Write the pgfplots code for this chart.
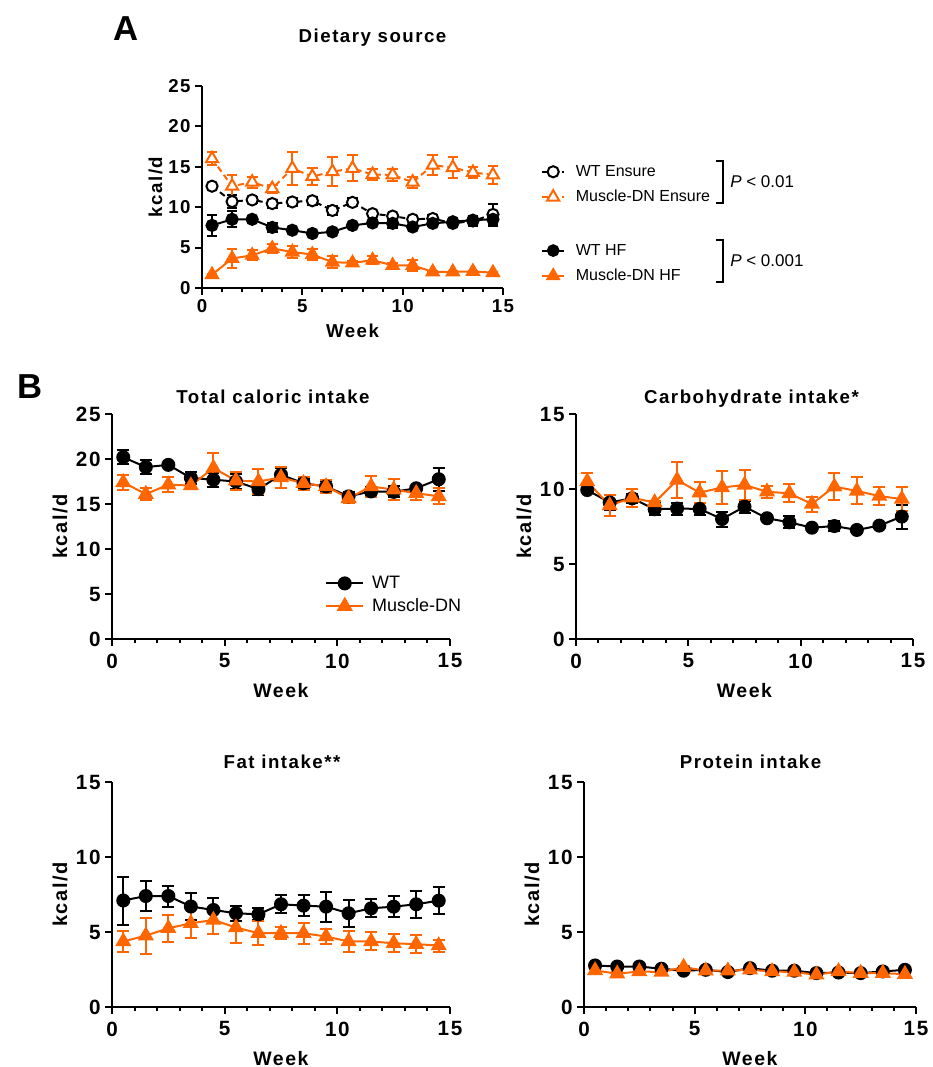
\documentclass[border=0pt]{standalone}
\usepackage{fontspec}
\setmainfont{Liberation Sans}
\newfontfamily\lsf[LetterSpace=8]{Liberation Sans}
\usepackage{pgfplots}
\usepackage{pgfplotstable}
\pgfplotsset{compat=1.18}
\definecolor{dnor}{RGB}{255,102,0}

% Panel A
\pgfplotstableread{
x y e
0.5 12.6 0.3
1.5 10.7 0.8
2.5 10.9 0.4
3.5 10.45 0.5
4.5 10.65 0.5
5.5 10.8 0.5
6.5 9.6 0.6
7.5 10.6 0.5
8.5 9.2 0.3
9.5 8.9 0.3
10.5 8.5 0.2
11.5 8.6 0.4
12.5 8.0 0.3
13.5 8.3 0.6
14.5 9.1 1.3
}\wtens
\pgfplotstableread{
x y e
0.5 16.0 0.8
1.5 12.6 1.4
2.5 13.1 0.7
3.5 12.3 0.5
4.5 14.8 2.0
5.5 13.8 1.0
6.5 14.4 1.8
7.5 14.8 1.6
8.5 14.05 0.7
9.5 14.0 0.7
10.5 13.1 0.7
11.5 15.2 1.2
12.5 14.9 1.3
13.5 14.3 0.7
14.5 14.0 1.1
}\dnens
\pgfplotstableread{
x y e
0.5 7.75 1.3
1.5 8.5 1.0
2.5 8.5 0.2
3.5 7.5 0.6
4.5 7.15 0.2
5.5 6.75 0.2
6.5 6.95 0.2
7.5 7.75 0.2
8.5 8.05 0.3
9.5 8.0 0.6
10.5 7.55 0.3
11.5 8.0 0.3
12.5 8.2 0.3
13.5 8.4 0.5
14.5 8.5 0.8
}\wthf
\pgfplotstableread{
x y e
0.5 1.65 0.1
1.5 3.65 1.2
2.5 4.05 0.6
3.5 4.9 0.6
4.5 4.45 0.7
5.5 4.15 0.7
6.5 3.2 0.7
7.5 3.1 0.2
8.5 3.45 0.5
9.5 2.8 0.3
10.5 2.8 0.7
11.5 2.0 0.1
12.5 2.0 0.1
13.5 2.05 0.1
14.5 1.9 0.1
}\dnhf
% Total
\pgfplotstableread{
x y e
0.5 20.2 0.8
1.5 19.1 0.8
2.5 19.35 0.2
3.5 17.9 0.7
4.5 17.7 0.8
5.5 17.5 0.8
6.5 16.65 0.6
7.5 18.25 0.7
8.5 17.3 0.5
9.5 16.95 0.6
10.5 15.85 0.5
11.5 16.4 0.5
12.5 16.35 0.6
13.5 16.75 0.3
14.5 17.75 1.3
}\wttot
\pgfplotstableread{
x y e
0.5 17.4 0.8
1.5 16.1 0.7
2.5 17.15 0.8
3.5 17.05 0.4
4.5 19.0 1.7
5.5 17.6 1.0
6.5 17.5 1.4
7.5 17.95 1.2
8.5 17.3 0.7
9.5 16.95 0.7
10.5 15.65 0.5
11.5 16.95 1.2
12.5 16.6 1.2
13.5 16.2 0.7
14.5 15.85 0.9
}\dntot
% Carbohydrate
\pgfplotstableread{
x y e
0.5 9.93 0.1
1.5 9.1 0.5
2.5 9.38 0.3
3.5 8.65 0.4
4.5 8.7 0.4
5.5 8.67 0.4
6.5 8.0 0.5
7.5 8.82 0.4
8.5 8.05 0.1
9.5 7.78 0.4
10.5 7.42 0.1
11.5 7.53 0.35
12.5 7.27 0.1
13.5 7.56 0.1
14.5 8.16 0.8
}\wtcarb
\pgfplotstableread{
x y e
0.5 10.5 0.6
1.5 8.9 0.7
2.5 9.42 0.6
3.5 9.1 0.1
4.5 10.6 1.2
5.5 9.76 0.7
6.5 10.1 1.1
7.5 10.27 1.0
8.5 9.82 0.4
9.5 9.71 0.6
10.5 9.0 0.5
11.5 10.16 0.9
12.5 9.87 0.9
13.5 9.53 0.6
14.5 9.33 0.8
}\dncarb
% Fat
\pgfplotstableread{
x y e
0.5 7.1 1.6
1.5 7.4 1.0
2.5 7.4 0.7
3.5 6.7 0.9
4.5 6.47 0.8
5.5 6.25 0.5
6.5 6.18 0.4
7.5 6.85 0.6
8.5 6.76 0.7
9.5 6.69 1.0
10.5 6.25 0.9
11.5 6.58 0.6
12.5 6.69 0.7
13.5 6.85 0.9
14.5 7.09 0.9
}\wtfat
\pgfplotstableread{
x y e
0.5 4.37 0.7
1.5 4.76 1.2
2.5 5.25 0.9
3.5 5.58 1.0
4.5 5.8 0.9
5.5 5.3 1.0
6.5 4.92 0.8
7.5 4.92 0.4
8.5 4.92 0.7
9.5 4.7 0.5
10.5 4.37 0.7
11.5 4.37 0.6
12.5 4.25 0.6
13.5 4.19 0.6
14.5 4.1 0.4
}\dnfat
% Protein
\pgfplotstableread{
x y e
0.5 2.77 0.1
1.5 2.7 0.1
2.5 2.7 0.1
3.5 2.55 0.1
4.5 2.42 0.1
5.5 2.48 0.1
6.5 2.33 0.1
7.5 2.59 0.1
8.5 2.42 0.1
9.5 2.42 0.1
10.5 2.26 0.1
11.5 2.3 0.1
12.5 2.26 0.1
13.5 2.37 0.1
14.5 2.48 0.1
}\wtpro
\pgfplotstableread{
x y e
0.5 2.44 0.1
1.5 2.22 0.1
2.5 2.37 0.1
3.5 2.33 0.1
4.5 2.66 0.1
5.5 2.42 0.1
6.5 2.42 0.1
7.5 2.48 0.1
8.5 2.37 0.1
9.5 2.33 0.1
10.5 2.15 0.1
11.5 2.37 0.1
12.5 2.26 0.1
13.5 2.26 0.1
14.5 2.19 0.1
}\dnpro

\pgfplotsset{
  gpbase/.style={
    scale only axis, anchor=south west, clip=false, enlargelimits=false,
    axis x line=bottom, axis y line=left,
    axis line style={-, line width=1.5pt},
    xmin=0, xmax=15, ymin=0,
    xtick={0,5,10,15}, minor x tick num=4,
    tick align=outside,
    major tick length=5pt, minor tick length=3pt,
    tick style={line width=1.5pt, black},
    /pgf/number format/assume math mode=true,
  },
  gpA/.style={gpbase,
    tick label style={font=\lsf\bfseries\fontsize{14}{15}\selectfont},
    xlabel style={font=\lsf\bfseries\fontsize{14}{15}\selectfont, at={(axis description cs:0.5,0)}, anchor=base, yshift=-36.75pt},
    ylabel style={font=\lsf\bfseries\fontsize{14}{15}\selectfont, at={(axis description cs:0,0.5)}, anchor=base, yshift=30pt},
  },
  gpB/.style={gpbase,
    tick label style={font=\lsf\bfseries\fontsize{15.5}{16}\selectfont},
    xticklabel style={yshift=-2.5pt},
    xlabel style={font=\lsf\bfseries\fontsize{14.6}{15}\selectfont, at={(axis description cs:0.5,0)}, anchor=base, yshift=-43.5pt},
    ylabel style={font=\lsf\bfseries\fontsize{15}{16}\selectfont, at={(axis description cs:0,0.5)}, anchor=base, yshift=33.75pt},
  },
  ebar/.style={error bars/.cd, y dir=both, y explicit,
    error bar style={line width=1.5pt, solid},
    error mark options={line width=1.5pt, mark size=#1, solid, rotate=90}},
  wtA/.style={black, line width=1.5pt, mark=*, mark size=4.2pt, mark options={solid, fill=black}, ebar=4pt},
  wtoA/.style={black, line width=1.5pt, dash pattern=on 4.5pt off 3pt, mark=*, mark size=4.2pt, mark options={solid, fill=white}, ebar=4pt},
  dnA/.style={dnor, line width=1.5pt, mark=triangle*, mark size=5.2pt, mark options={solid, fill=dnor}, ebar=4pt},
  dnoA/.style={dnor, line width=1.5pt, dash pattern=on 4.5pt off 3pt, mark=triangle*, mark size=5.2pt, mark options={solid, fill=white}, ebar=4pt},
  wtB/.style={black, line width=1.5pt, mark=*, mark size=4.5pt, mark options={solid, fill=black}, ebar=4.5pt},
  dnB/.style={dnor, line width=1.5pt, mark=triangle*, mark size=5.5pt, mark options={solid, fill=dnor}, ebar=4.5pt},
}

\begin{document}
\begin{tikzpicture}
\useasboundingbox (0pt,0pt) rectangle (699pt,-800.25pt);

% ---------- Panel A ----------
\begin{axis}[gpA, at={(151.5pt,-216pt)}, width=225.75pt, height=151.5pt,
  ymax=25, ytick={0,5,10,15,20,25},
  xlabel={Week}, ylabel={kcal/d},
  legend style={draw=none, fill=none, inner sep=0pt, at={(axis description cs:1.126,0.512)}, anchor=west,
    font=\fontsize{12}{12}\selectfont, row sep=5pt, column sep=6pt, cells={anchor=west}},
  legend image code/.code={\draw[mark repeat=2,mark phase=2] plot coordinates {(0pt,0pt) (8.25pt,0pt) (16.5pt,0pt)};},
]
\addplot[wtoA] table[x=x,y=y,y error=e]{\wtens};
\addlegendentry{WT Ensure}
\addplot[dnoA] table[x=x,y=y,y error=e]{\dnens};
\addlegendentry{Muscle-DN Ensure}
\addplot[wtA] table[x=x,y=y,y error=e]{\wthf};
\addplot[dnA] table[x=x,y=y,y error=e]{\dnhf};
\end{axis}
\begin{axis}[at={(151.5pt,-216pt)}, anchor=south west, scale only axis, width=225.75pt, height=151.5pt,
  hide axis, xmin=0, xmax=1, ymin=0, ymax=1,
  legend style={draw=none, fill=none, inner sep=0pt, at={(axis description cs:1.126,0.122)}, anchor=west,
    font=\fontsize{12}{12}\selectfont, row sep=5pt, column sep=6pt, cells={anchor=west}},
  legend image code/.code={\draw[mark repeat=2,mark phase=2] plot coordinates {(0pt,0pt) (8.25pt,0pt) (16.5pt,0pt)};},
]
\addlegendimage{black, line width=1.5pt, mark=*, mark size=4pt, mark options={fill=black}}
\addlegendentry{WT HF}
\addlegendimage{dnor, line width=1.5pt, mark=triangle*, mark size=5pt, mark options={fill=dnor}}
\addlegendentry{Muscle-DN HF}
\end{axis}

% brackets and P values
\draw[line width=1.5pt] (537pt,-120.75pt) -- (542.25pt,-120.75pt) -- (542.25pt,-152.25pt) -- (537pt,-152.25pt);
\draw[line width=1.5pt] (537pt,-180pt) -- (542.25pt,-180pt) -- (542.25pt,-211.5pt) -- (537pt,-211.5pt);
\node[anchor=west, inner sep=0pt, font=\fontsize{12.75}{13}\selectfont] at (547.5pt,-136.5pt) {\textit{P} < 0.01};
\node[anchor=west, inner sep=0pt, font=\fontsize{12.75}{13}\selectfont] at (547.5pt,-195.75pt) {\textit{P} < 0.001};

% Titles
\node[anchor=base, inner sep=0pt, font=\bfseries\fontsize{26}{26}\selectfont] at (94.5pt,-30pt) {A};
\node[anchor=base, inner sep=0pt, font=\lsf\bfseries\fontsize{14}{15}\selectfont] at (279.4pt,-31.5pt) {Dietary source};
\node[anchor=base, inner sep=0pt, font=\bfseries\fontsize{26}{26}\selectfont] at (22.5pt,-298.5pt) {B};
\node[anchor=base, inner sep=0pt, font=\lsf\bfseries\fontsize{14}{15}\selectfont] at (204.75pt,-302.25pt) {Total caloric intake};
\node[anchor=base, inner sep=0pt, font=\lsf\bfseries\fontsize{14}{15}\selectfont] at (563.6pt,-302.25pt) {Carbohydrate intake*};
\node[anchor=base, inner sep=0pt, font=\lsf\bfseries\fontsize{14}{15}\selectfont] at (211.5pt,-576pt) {Fat intake**};
\node[anchor=base, inner sep=0pt, font=\lsf\bfseries\fontsize{14}{15}\selectfont] at (562.9pt,-576pt) {Protein intake};

% ---------- Total ----------
\begin{axis}[gpB, at={(84pt,-479.25pt)}, width=253.5pt, height=168.75pt,
  ymax=25, ytick={0,5,10,15,20,25},
  xlabel={Week}, ylabel={kcal/d},
  legend style={draw=none, fill=none, inner sep=0pt, at={(axis description cs:0.63,0.196)}, anchor=west,
    font=\fontsize{13.5}{14}\selectfont, row sep=2pt, column sep=4pt, cells={anchor=west}},
  legend image code/.code={\draw[mark repeat=2,mark phase=2] plot coordinates {(0pt,0pt) (13.9pt,0pt) (27.75pt,0pt)};},
]
\addplot[wtB] table[x=x,y=y,y error=e]{\wttot};
\addlegendentry{WT}
\addplot[dnB] table[x=x,y=y,y error=e]{\dntot};
\addlegendentry{Muscle-DN}
\end{axis}

% ---------- Carbohydrate ----------
\begin{axis}[gpB, at={(432pt,-479.25pt)}, width=252.75pt, height=168.75pt,
  ymax=15, ytick={0,5,10,15},
  xlabel={Week}, ylabel={kcal/d}]
\addplot[wtB] table[x=x,y=y,y error=e]{\wtcarb};
\addplot[dnB] table[x=x,y=y,y error=e]{\dncarb};
\end{axis}

% ---------- Fat ----------
\begin{axis}[gpB, at={(84pt,-755.25pt)}, width=253.5pt, height=168.75pt,
  ymax=15, ytick={0,5,10,15},
  xlabel={Week}, ylabel={kcal/d}]
\addplot[wtB] table[x=x,y=y,y error=e]{\wtfat};
\addplot[dnB] table[x=x,y=y,y error=e]{\dnfat};
\end{axis}

% ---------- Protein ----------
\begin{axis}[gpB, at={(438pt,-755.25pt)}, width=249pt, height=168.75pt,
  ymax=15, ytick={0,5,10,15},
  xlabel={Week}, ylabel={kcal/d}]
\addplot[wtB] table[x=x,y=y,y error=e]{\wtpro};
\addplot[dnB] table[x=x,y=y,y error=e]{\dnpro};
\end{axis}
\end{tikzpicture}
\end{document}
